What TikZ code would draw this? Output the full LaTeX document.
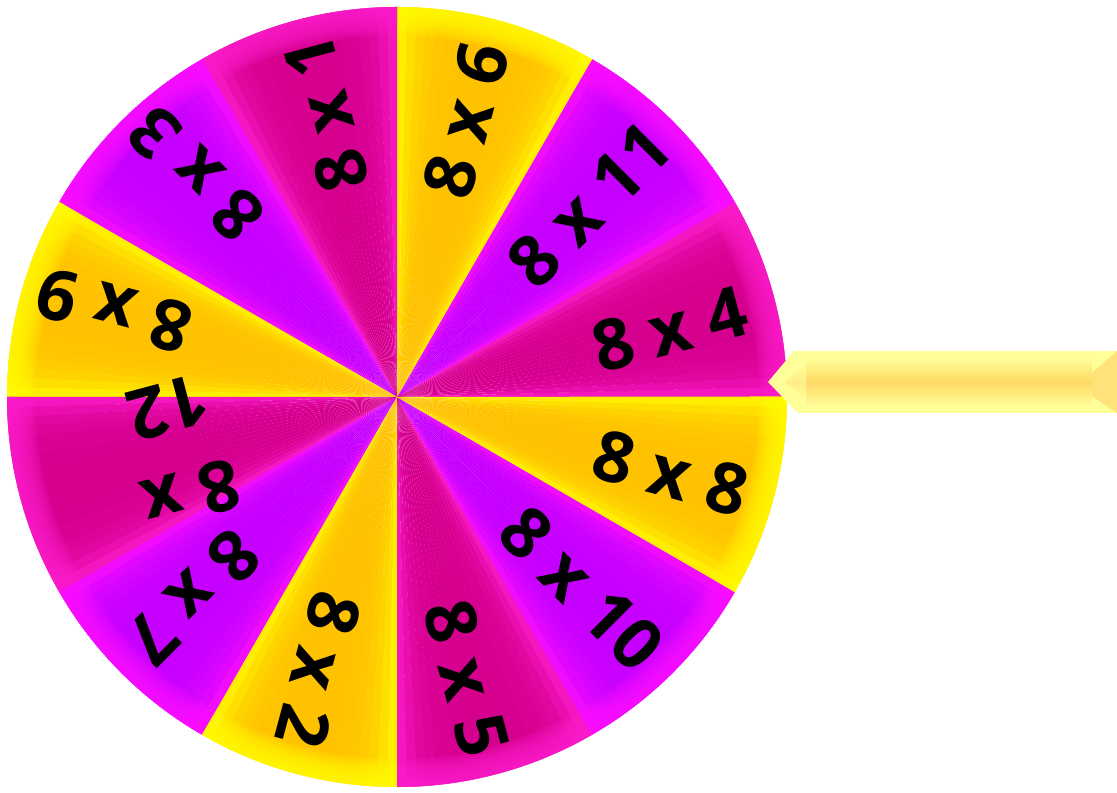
\documentclass[tikz,border=0pt]{standalone}
\usepackage{fontspec}
\newfontfamily\lblfont{Open Sans}
\usetikzlibrary{calc}
\definecolor{magB}{HTML}{D6008F}
\definecolor{magE}{HTML}{FF1ECF}
\definecolor{purB}{HTML}{C600FF}
\definecolor{purE}{HTML}{FF10FF}
\definecolor{yelB}{HTML}{FFC200}
\definecolor{yelE}{HTML}{FFFF00}
\definecolor{ptrL}{HTML}{FFFF99}
\definecolor{ptrM}{HTML}{FFD966}
\definecolor{ptrE}{HTML}{FFE27A}
\begin{document}
\begin{tikzpicture}[x=0.025cm,y=0.025cm,
  lab/.style={font=\lblfont\bfseries\fontsize{50}{64}\selectfont, text=black, inner sep=0pt, align=center}]
\useasboundingbox (0,0) rectangle (1117,793);
\fill[white] (0,0) rectangle (1117,793);
\begin{scope}[shift={(397,396)}]
\foreach \i/\cb/\ce in {0/magB/magE,1/purB/purE,2/yelB/yelE,3/magB/magE,4/purB/purE,5/yelB/yelE,6/magB/magE,7/purB/purE,8/yelB/yelE,9/magB/magE,10/purB/purE,11/yelB/yelE}{
  \foreach \k in {0,...,19}{
    \pgfmathsetmacro\tt{(\k+0.5)/20}
    \pgfmathsetmacro\uu{min(\tt,1-\tt)}
    \pgfmathtruncatemacro\ww{round(90*(1-2*\uu)^4)}
    \pgfmathsetmacro\aa{30*\i+1.5*\k}
    \pgfmathsetmacro\ab{\aa+1.58}
    \fill[\ce!\ww!\cb] (0,0) -- (\aa:390) arc[start angle=\aa, end angle=\ab, radius=390] -- cycle;
  }
  \pgfmathsetmacro\sa{30*\i}
  \pgfmathsetmacro\sb{30*\i+30}
  \foreach \j in {0,...,9}{
    \pgfmathsetmacro\rr{362+2.8*\j}
    \fill[\ce, opacity=0.17] (\sa:\rr) arc[start angle=\sa, end angle=\sb, radius=\rr] -- (\sb:390) arc[start angle=\sb, end angle=\sa, radius=390] -- cycle;
  }
}
\node[lab, rotate=15]  (l4)  at (14:281)   {8 x 4};
\node[lab, rotate=45]  (l11) at (45:272)   {8 x 11};
\node[lab, rotate=75]  (l6)  at (76:285)   {8 x 6};
\node[lab, rotate=105] (l1)  at (104:292)  {8 x 1};
\node[lab, rotate=135] (l3)  at (132:300)  {8 x 3};
\node[lab, rotate=165] (l9)  at (163:296)  {8 x 9};
\node[lab, rotate=195] (l12) at (194:224)  {8 x\\12};
\node[lab, rotate=225] (l7)  at (224.5:286) {8 x 7};
\node[lab, rotate=255] (l2)  at (254:284)  {8 x 2};
\node[lab, rotate=285] (l5)  at (284:290)  {8 x 5};
\node[lab, rotate=315] (l10) at (314:266)  {8 x 10};
\node[lab, rotate=345] (l8)  at (344.5:284) {8 x 8};
\end{scope}
% pointer
\fill[ptrL] (768,411) -- (794,442) -- (1117,442) -- (1117,380) -- (798,380) -- cycle;
\shade[top color=ptrL, bottom color=ptrL, middle color=ptrM] (806,436) rectangle (1092,386);
\fill[ptrE] (1117,442) -- (1092,420) -- (1092,397) -- (1117,380) -- cycle;
\shade[top color=ptrL, bottom color=ptrL, middle color=ptrE!60!ptrL] (785,411) -- (806,430) -- (806,392) -- cycle;
\end{tikzpicture}
\end{document}
